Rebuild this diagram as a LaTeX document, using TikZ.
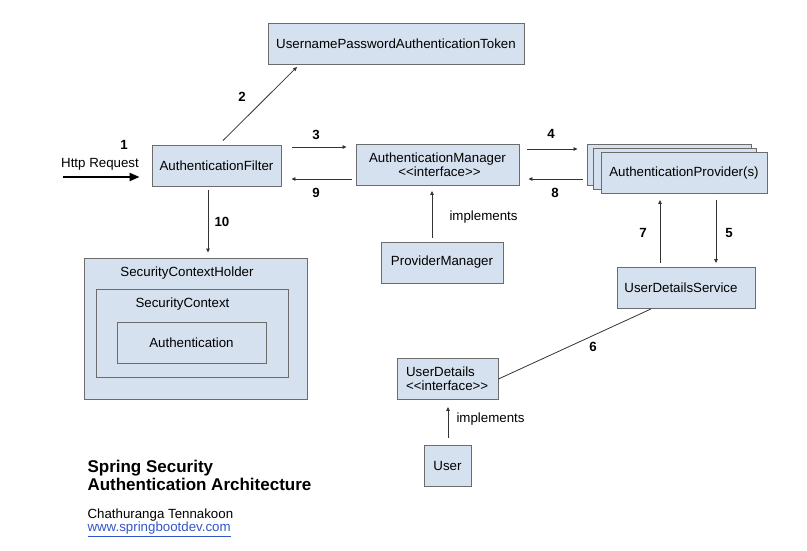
\documentclass[tikz,border=0pt]{standalone}
\usepackage{fontspec}
\setmainfont{Liberation Sans}
\usepackage{tikz}
\usetikzlibrary{calc}
\usetikzlibrary{arrows.meta}
\definecolor{boxfill}{HTML}{D6E1F0}
\definecolor{boxline}{HTML}{6B6B6B}
\definecolor{arrline}{HTML}{333333}
\definecolor{linkblue}{HTML}{3355CC}
\newcommand{\iface}{{<}{<}interface{>}{>}}
\tikzset{
    box/.style={draw=boxline, fill=boxfill, line width=0.9pt, inner sep=0pt, minimum height=41},
    arr/.style={draw=arrline, line width=0.8pt, -{Triangle[length=4pt,width=3.5pt]}},
    num/.style={font=\fontsize{13.3}{15}\selectfont\bfseries}
}
\begin{document}
\begin{tikzpicture}[x=1pt, y=-1pt, font=\fontsize{13.3}{15}\selectfont]
        \useasboundingbox (0,0) rectangle (807,551);

        % boxes
        \node[box, minimum width=256] (token) at (396,44) {UsernamePasswordAuthenticationToken};
        \node[box, minimum width=129] (filter) at (216.5,165.5) {AuthenticationFilter};
        \node[box, minimum width=163, align=center] (manager) at (437.5,165) {AuthenticationManager\\[-1pt]\hspace*{4pt}\iface};
        \node[box, minimum width=164] (provback) at (669,164.5) {};
        \node[box, minimum width=163] (provmid) at (674.5,168.5) {};
        \node[box, minimum width=166] (prov) at (684,173) {AuthenticationProvider(s)};
        \node[box, minimum width=138] (uds) at (686,288) {UserDetailsService\hspace*{10pt}};
        \node[box, minimum width=122] (pm) at (442,262.5) {ProviderManager};
        \node[box, minimum width=101, align=left] (ud) at (447.5,379) {UserDetails\hspace*{14pt}\\[-1pt]\iface};
        \node[box, minimum width=47] (user) at (447.5,465.5) {User};

        % nested holder
        \node[box, minimum width=223, minimum height=141] (holder) at (195.5,328.5) {};
        \node (holdertxt) at (187,273) {SecurityContextHolder};
        \node[box, fill=none, minimum width=192, minimum height=88] (ctx) at (192,333) {};
        \node (ctxtxt) at (182.5,304) {SecurityContext};
        \node[box, fill=none, minimum width=149] (auth) at (191.5,343) {Authentication};

        % request
        \coordinate (req) at (63,177);
        \node (reqtxt) at (100,164) {Http Request};
        \draw[draw=black, line width=2pt, -{Triangle[length=10pt,width=8pt]}] (req) -- ($(filter.west)+(-12,11.5)$);

        % connectors
        \draw[arr] ($(filter.north)+(6.5,-4)$) -- ($(token.south)+(-99,2)$);
        \draw[arr] ($(filter.east)+(11,-18.5)$) -- ($(manager.west)+(-9,-18)$);
        \draw[arr] ($(manager.west)+(-4,14)$) -- ($(filter.east)+(10,13.5)$);
        \draw[arr] ($(manager.east)+(8,-16)$) -- ($(provback.west)+(-9,-15.5)$);
        \draw[arr] ($(provback.west)+(-4,14.5)$) -- ($(manager.east)+(9,14)$);
        \draw[arr] ($(uds.north)+(-26,-4)$) -- ($(prov.south)+(-24,6)$);
        \draw[arr] ($(prov.south)+(32,6)$) -- ($(uds.north)+(30,-4)$);
        \draw[arr] ($(filter.south)+(-8.5,4)$) -- ($(holder.north)+(12.5,-5)$);
        \draw[arr] ($(pm.north)+(-10,-4)$) -- ($(manager.south)+(-5.5,5)$);
        \draw[draw=arrline, line width=0.8pt] (ud.east) -- ($(uds.south)+(-35,0)$);
        \draw[arr] ($(user.north)+(0.5,-7)$) -- ($(ud.south)+(0.5,7)$);

        % step numbers
        \foreach \n/\x/\y in {1/124/145, 2/242/97, 3/316/135, 9/316/193, 4/551/134,
                              8/555/193, 7/643/233, 5/729/233, 10/222/222, 6/593/347} {
            \node[num] (n\n) at (\x,\y) {\n};
        }
        \node[anchor=west] (impl) at (446,217) {implements};
        \node[anchor=west] (implud) at (453,419) {implements};

        % title
        \node[anchor=west, align=left, font=\fontsize{17}{18}\selectfont\bfseries] (title) at (84,475) {Spring Security\\Authentication Architecture};
        \node[anchor=west, align=left] (author) at (84,523) {Chathuranga Tennakoon\\[-2pt]\textcolor{linkblue}{\underline{www.springbootdev.com}}};
\end{tikzpicture}
\end{document}
